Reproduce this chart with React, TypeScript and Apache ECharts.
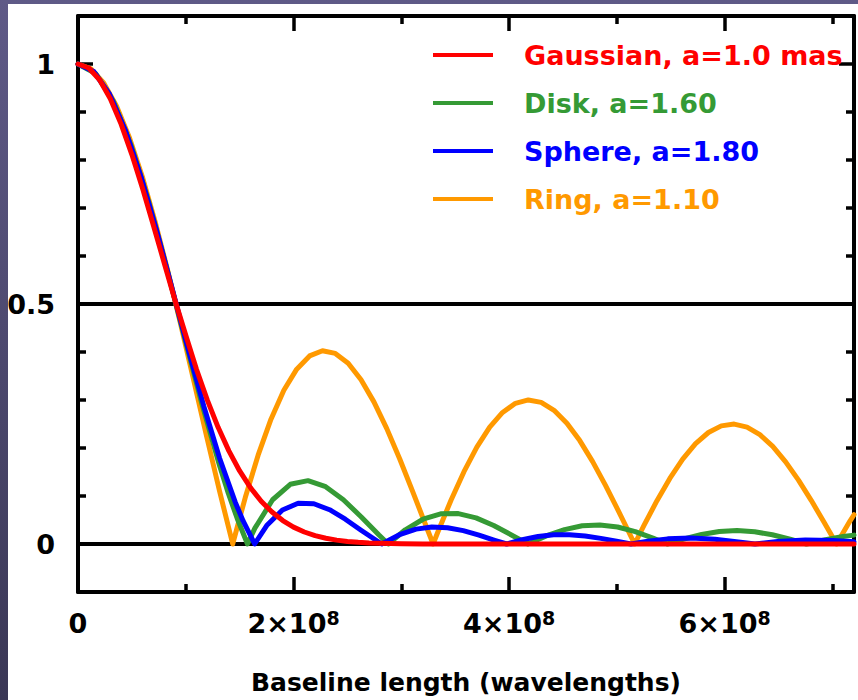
import React, { useEffect, useRef } from "react";
import * as echarts from "echarts";

// ---- Data (baseline in units of 10^8 wavelengths, visibility amplitude) ----
const seriesNames = ["Gaussian, a=1.0 mas", "Disk, a=1.60", "Sphere, a=1.80", "Ring, a=1.10"];
const seriesColors = ["#ff0000", "#359a35", "#0000ff", "#ff9900"];

const gaussianB = [0, 0.1, 0.2, 0.3, 0.4, 0.5, 0.6, 0.7, 0.8, 0.9, 1.0, 1.1, 1.2, 1.3, 1.4, 1.5, 1.6, 1.7, 1.8, 1.9, 2.0, 2.1, 2.2, 2.3, 2.4, 2.5, 2.6, 2.7, 2.8, 2.9, 3.0, 3.2, 3.5, 4, 5, 6, 7, 7.2];
const gaussianV = [1, 0.9917, 0.9671, 0.9275, 0.8747, 0.8113, 0.74, 0.6637, 0.5854, 0.5078, 0.4351, 0.3633, 0.2997, 0.2431, 0.194, 0.1522, 0.1174, 0.0891, 0.0665, 0.0488, 0.0352, 0.025, 0.0174, 0.012, 0.0081, 0.0054, 0.0035, 0.0022, 0.0014, 0.0009, 0.0005, 0.0002, 0, 0, 0, 0, 0, 0];

const diskB = [0, 0.1641, 0.3283, 0.4924, 0.6566, 0.8207, 0.9849, 1.149, 1.3132, 1.3952, 1.4773, 1.5724, 1.6414, 1.8056, 1.9697, 2.1339, 2.298, 2.4622, 2.6263, 2.7904, 2.8789, 3.0367, 3.2008, 3.365, 3.5291, 3.6932, 3.8574, 4.0215, 4.1748, 4.3498, 4.514, 4.6781, 4.8422, 5.0064, 5.1705, 5.3347, 5.4675, 5.6219, 5.7861, 5.9502, 6.1144, 6.2785, 6.4427, 6.6068, 6.7589, 6.9351, 7.0992, 7.2];
const diskV = [1, 0.98, 0.922, 0.8305, 0.7124, 0.5767, 0.4335, 0.2926, 0.1633, 0.1054, 0.0531, 0, 0.033, 0.0922, 0.1244, 0.132, 0.1194, 0.0922, 0.0568, 0.0192, 0, 0.0296, 0.0516, 0.0629, 0.0634, 0.0545, 0.0386, 0.0189, 0, 0.0175, 0.03, 0.038, 0.0398, 0.0355, 0.0258, 0.0122, 0, 0.0104, 0.0197, 0.0259, 0.0279, 0.0255, 0.0192, 0.0099, 0, 0.0088, 0.0155, 0.0185];

const sphereB = [0, 0.1459, 0.2918, 0.4377, 0.5836, 0.7295, 0.8754, 1.0213, 1.1672, 1.3131, 1.459, 1.532, 1.639, 1.7508, 1.8968, 2.0427, 2.1886, 2.3345, 2.4804, 2.6263, 2.8179, 2.991, 3.1369, 3.2828, 3.4287, 3.5746, 3.7206, 3.8665, 3.9774, 4.1218, 4.2677, 4.4136, 4.5595, 4.7054, 4.8513, 4.9972, 5.1308, 5.289, 5.4714, 5.6902, 5.9091, 6.128, 6.2815, 6.4927, 6.7481, 7.0034, 7.2];
const sphereV = [1, 0.9844, 0.9374, 0.8632, 0.7663, 0.6531, 0.5306, 0.4063, 0.2871, 0.1791, 0.0871, 0.0481, 0, 0.0384, 0.0708, 0.085, 0.0839, 0.0714, 0.0517, 0.0288, 0, 0.0202, 0.031, 0.0354, 0.034, 0.0279, 0.0186, 0.0078, 0, 0.009, 0.0156, 0.0191, 0.0193, 0.0166, 0.0117, 0.0057, 0, 0.006, 0.0107, 0.0123, 0.0098, 0.0043, 0, 0.0052, 0.0084, 0.0075, 0.0045];

const ringB = [0, 0.1194, 0.2387, 0.3581, 0.4775, 0.5969, 0.7162, 0.8356, 0.955, 1.0744, 1.1937, 1.3131, 1.4353, 1.5519, 1.6712, 1.7906, 1.91, 2.0294, 2.1487, 2.2681, 2.3875, 2.5069, 2.6262, 2.7456, 2.865, 2.9844, 3.1037, 3.2231, 3.2948, 3.3425, 3.4618, 3.5812, 3.7006, 3.82, 3.9393, 4.0587, 4.1781, 4.2975, 4.4168, 4.5362, 4.6556, 4.775, 4.8943, 5.0137, 5.1331, 5.1651, 5.2525, 5.3718, 5.4912, 5.6106, 5.73, 5.8493, 5.9687, 6.0881, 6.2074, 6.3268, 6.4462, 6.5656, 6.6849, 6.8043, 6.9237, 7.038, 7.1624, 7.2];
const ringV = [1, 0.99, 0.9604, 0.912, 0.8463, 0.7652, 0.6711, 0.5669, 0.4554, 0.34, 0.2239, 0.1104, 0, 0.0968, 0.185, 0.2601, 0.3202, 0.3643, 0.3918, 0.4026, 0.3971, 0.3766, 0.3423, 0.2961, 0.2404, 0.1776, 0.1103, 0.0412, 0, 0.027, 0.0917, 0.1506, 0.2017, 0.2433, 0.274, 0.2931, 0.3001, 0.2951, 0.2786, 0.2516, 0.2154, 0.1717, 0.1222, 0.0692, 0.0146, 0, 0.0392, 0.0903, 0.1367, 0.1768, 0.209, 0.2323, 0.2461, 0.2498, 0.2435, 0.2278, 0.2034, 0.1712, 0.1331, 0.0904, 0.0447, 0, 0.0477, 0.061];

const xMajorTicks = [0, 2, 4, 6];
const xMinorTicks = [1, 3, 5, 7];
const yMajorTicks = [0, 0.5, 1];
const yMinorTicks = [0.1, 0.2, 0.3, 0.4, 0.6, 0.7, 0.8, 0.9];
const referenceLevels = [0, 0.5];
const xAxisTitle = "Baseline length (wavelengths)";
const X_MIN = 0;
const X_MAX = 7.2;
const Y_MIN = -0.1;
const Y_MAX = 1.1;

const curves = [
  { b: gaussianB, v: gaussianV },
  { b: diskB, v: diskV },
  { b: sphereB, v: sphereV },
  { b: ringB, v: ringV },
];
const drawOrder = [3, 1, 2, 0];

const FONT = "'DejaVu Sans', sans-serif";

function buildOption(): any {
  const tickStyle = { color: "#000", width: 3.5 };
  const frame = { show: true, onZero: false, lineStyle: { color: "#000", width: 4 } };
  const noLine = { show: false, onZero: false };
  const xBase = { type: "value", min: X_MIN, max: X_MAX, splitLine: { show: false }, gridIndex: 0 };
  const yBase = { type: "value", min: Y_MIN, max: Y_MAX, splitLine: { show: false }, gridIndex: 0 };

  const xAxis = [
    {
      ...xBase,
      position: "bottom",
      axisLine: frame,
      axisTick: { show: true, inside: true, length: 15, customValues: xMajorTicks, lineStyle: tickStyle },
      axisLabel: {
        show: true,
        customValues: xMajorTicks,
        margin: 16,
        formatter: (v: number) => (v === 0 ? "{b|0}" : `{b|${v}×10}{s|8}`),
        rich: {
          b: { fontFamily: FONT, fontWeight: "bold", fontSize: 27, lineHeight: 30, color: "#000" },
          s: { fontFamily: FONT, fontWeight: "bold", fontSize: 19, lineHeight: 10, verticalAlign: "top", color: "#000" },
        },
      },
      name: xAxisTitle,
      nameLocation: "middle",
      nameGap: 78,
      nameTextStyle: { fontFamily: FONT, fontWeight: "bold", fontSize: 25, color: "#000" },
    },
    {
      ...xBase,
      position: "bottom",
      axisLine: noLine,
      axisTick: { show: true, inside: true, length: 8, customValues: xMinorTicks, lineStyle: tickStyle },
      axisLabel: { show: false },
    },
    {
      ...xBase,
      position: "top",
      axisLine: frame,
      axisTick: { show: true, inside: true, length: 15, customValues: xMajorTicks, lineStyle: tickStyle },
      axisLabel: { show: false },
    },
    {
      ...xBase,
      position: "top",
      axisLine: noLine,
      axisTick: { show: true, inside: true, length: 8, customValues: xMinorTicks, lineStyle: tickStyle },
      axisLabel: { show: false },
    },
  ];

  const yAxis = [
    {
      ...yBase,
      position: "left",
      axisLine: frame,
      axisTick: { show: true, inside: true, length: 15, customValues: yMajorTicks, lineStyle: tickStyle },
      axisLabel: {
        show: true,
        customValues: yMajorTicks,
        margin: 23,
        fontFamily: FONT,
        fontWeight: "bold",
        fontSize: 27,
        color: "#000",
        formatter: (v: number) => String(v),
      },
    },
    {
      ...yBase,
      position: "left",
      axisLine: noLine,
      axisTick: { show: true, inside: true, length: 8, customValues: yMinorTicks, lineStyle: tickStyle },
      axisLabel: { show: false },
    },
    {
      ...yBase,
      position: "right",
      axisLine: frame,
      axisTick: { show: true, inside: true, length: 15, customValues: yMajorTicks, lineStyle: tickStyle },
      axisLabel: { show: false },
    },
    {
      ...yBase,
      position: "right",
      axisLine: noLine,
      axisTick: { show: true, inside: true, length: 8, customValues: yMinorTicks, lineStyle: tickStyle },
      axisLabel: { show: false },
    },
  ];

  const series = drawOrder.map((idx, k) => {
    const c = curves[idx];
    const s: any = {
      type: "line",
      name: seriesNames[idx],
      xAxisIndex: 0,
      yAxisIndex: 0,
      data: c.b.map((b, i) => [b, c.v[i]]),
      showSymbol: false,
      symbol: "none",
      clip: true,
      color: seriesColors[idx],
      lineStyle: { width: 5, color: seriesColors[idx], cap: "round", join: "round" },
      emphasis: { disabled: true },
      z: 3 + k,
    };
    if (k === 0) {
      s.markLine = {
        silent: true,
        z: 1,
        symbol: ["none", "none"],
        label: { show: false },
        lineStyle: { color: "#000", width: 4, type: "solid" },
        emphasis: { disabled: true },
        data: referenceLevels.map((v) => ({ yAxis: v })),
      };
    }
    return s;
  });

  return {
    animation: false,
    backgroundColor: "transparent",
    grid: { left: 78, right: 4, top: 16, bottom: 107, containLabel: false },
    legend: {
      orient: "vertical",
      left: 433,
      top: 40,
      padding: 0,
      itemGap: 18,
      itemWidth: 60,
      itemHeight: 4,
      icon: "rect",
      selectedMode: false,
      data: [0, 1, 2, 3].map((i) => ({
        name: seriesNames[i],
        itemStyle: { color: seriesColors[i] },
        textStyle: { color: seriesColors[i] },
      })),
      textStyle: {
        fontFamily: FONT,
        fontWeight: "bold",
        fontSize: 27,
        lineHeight: 30,
        padding: [0, 0, 0, 26],
      },
    },
    xAxis,
    yAxis,
    series,
  };
}

export default function App() {
  const ref = useRef<HTMLDivElement>(null);
  useEffect(() => {
    if (!ref.current) return;
    const chart = echarts.init(ref.current, undefined, { renderer: "svg" });
    chart.setOption(buildOption());
    return () => chart.dispose();
  }, []);
  return (
    <div
      style={{
        position: "fixed",
        left: 0,
        top: 0,
        width: 858,
        height: 700,
        background: "linear-gradient(#5f5a87, #3a3755)",
        overflow: "hidden",
      }}
    >
      <div style={{ position: "absolute", left: 8, top: 4, right: 0, bottom: 0, background: "#ffffff" }} />
      <div ref={ref} style={{ position: "absolute", left: 0, top: 0, width: 858, height: 700 }} />
    </div>
  );
}
